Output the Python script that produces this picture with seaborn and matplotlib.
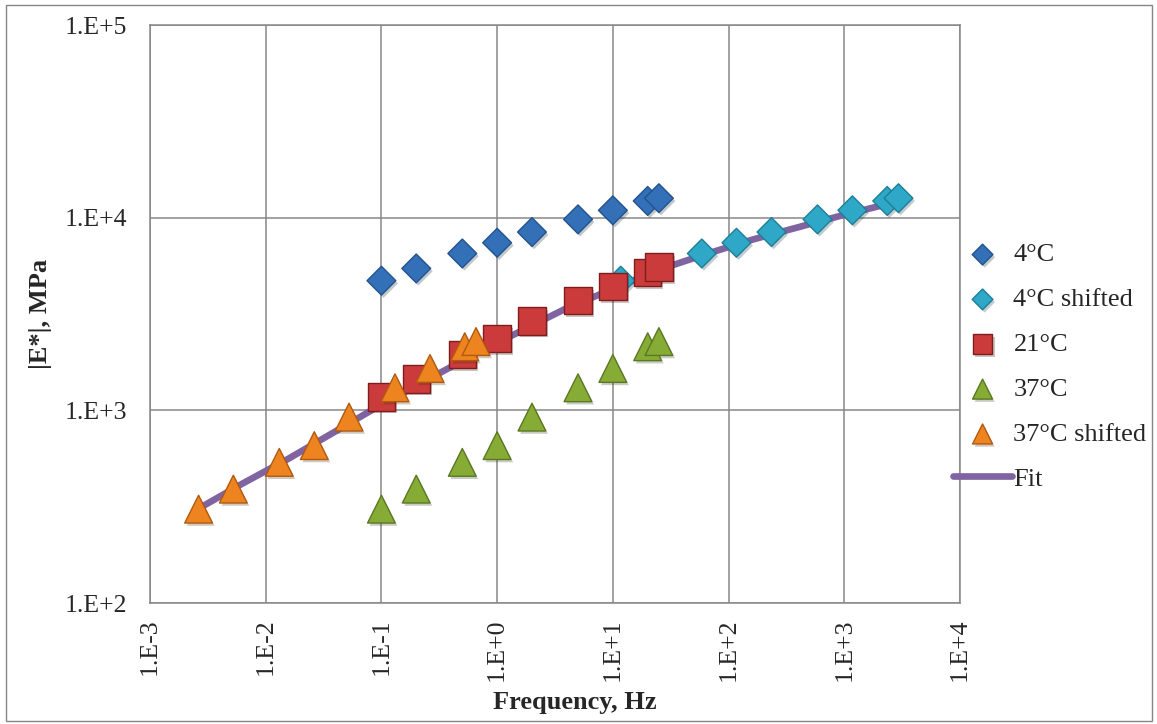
import matplotlib
matplotlib.use('Agg')
import matplotlib.pyplot as plt
import matplotlib.patheffects as pe
from matplotlib.patches import Rectangle
import seaborn as sns

# Measured frequencies, Hz
freq = [0.1, 0.2, 0.5, 1, 2, 5, 10, 20, 25]
# shifted frequencies
freq_4c_shifted = [11.7, 23.4, 58.7, 117, 235, 587, 1175, 2350, 2940]
freq_37c_shifted = [0.00263, 0.00525, 0.0131, 0.0263, 0.0525, 0.131, 0.263, 0.525, 0.657]

# |E*| in MPa
e_4c = [4710, 5450, 6520, 7410, 8420, 9800, 10920, 12210, 12620]
e_21c = [1175, 1456, 1945, 2355, 2910, 3715, 4385, 5210, 5545]
e_37c = [307, 390, 537, 656, 922, 1309, 1649, 2138, 2275]

# master curve fit
fit_freq = [0.00263, 0.00631, 0.0158, 0.0398, 0.1, 0.251, 0.631, 1.585, 3.98,
            10, 25.1, 63.1, 158.5, 398, 1000, 2951]
fit_e = [309, 417, 562, 776, 1072, 1445, 1950, 2570, 3388,
         4266, 5370, 6457, 7674, 8913, 10350, 12160]

x_ticks = [1e-3, 1e-2, 1e-1, 1e0, 1e1, 1e2, 1e3, 1e4]
x_tick_labels = ['1.E-3', '1.E-2', '1.E-1', '1.E+0', '1.E+1', '1.E+2', '1.E+3', '1.E+4']
y_ticks = [1e2, 1e3, 1e4, 1e5]
y_tick_labels = ['1.E+2', '1.E+3', '1.E+4', '1.E+5']

sns.set_style('white')
plt.rcParams['font.family'] = ['Liberation Serif', 'DejaVu Serif']

fig = plt.figure(figsize=(11.57, 7.24), dpi=100)
ax = fig.add_axes([150 / 1157, 1 - 603 / 724, 810 / 1157, 578 / 724])

shadow = [pe.SimplePatchShadow(offset=(1.5, -2), alpha=0.25), pe.Normal()]

# fit line goes underneath the markers
sns.lineplot(x=fit_freq, y=fit_e, ax=ax, color='#8064A2', linewidth=4.8,
             sort=False, estimator=None, label='Fit', zorder=2)

sns.scatterplot(x=freq, y=e_4c, ax=ax, marker='D', s=215, color='#3370B8',
                edgecolor='#22538C', linewidth=1, label='4°C', zorder=3)
sns.scatterplot(x=freq_4c_shifted, y=e_4c, ax=ax, marker='D', s=215, color='#2FA8C8',
                edgecolor='#1E7E98', linewidth=1, label='4°C shifted', zorder=3)
sns.scatterplot(x=freq, y=e_21c, ax=ax, marker='s', s=390, color='#CC3B3B',
                edgecolor='#7E1D1D', linewidth=1, label='21°C', zorder=4)
sns.scatterplot(x=freq, y=e_37c, ax=ax, marker='^', s=400, color='#86AC35',
                edgecolor='#5B7724', linewidth=1, label='37°C', zorder=5)
sns.scatterplot(x=freq_37c_shifted, y=e_37c, ax=ax, marker='^', s=400, color='#EE8420',
                edgecolor='#B05A10', linewidth=1, label='37°C shifted', zorder=6)

for coll in ax.collections:
    coll.set_path_effects(shadow)

ax.set_xscale('log')
ax.set_yscale('log')
ax.set_xlim(1e-3, 1e4)
ax.set_ylim(1e2, 1e5)
ax.set_xticks(x_ticks)
ax.set_xticklabels(x_tick_labels, rotation=90, fontsize=18.5)
ax.set_yticks(y_ticks)
ax.set_yticklabels(y_tick_labels, fontsize=18.5)
ax.minorticks_off()
ax.tick_params(axis='y', length=0, pad=16.5)
ax.tick_params(axis='x', length=0, pad=11)
ax.grid(True, which='major', color='#878787', linewidth=1.1)
ax.set_axisbelow(True)
for sp in ax.spines.values():
    sp.set_color('#878787')
    sp.set_linewidth(1.1)

ax.set_xlabel('Frequency, Hz', fontsize=19, fontweight='bold')
ax.set_ylabel('|E*|, MPa', fontsize=19, fontweight='bold')
ax.xaxis.set_label_coords((575 - 150) / 810, (603 - 703) / 578)
ax.xaxis.label.set_va('center')
ax.yaxis.set_label_coords((40 - 150) / 810, 0.5)
ax.yaxis.label.set_va('center')

handles, labels = ax.get_legend_handles_labels()
order = ['4°C', '4°C shifted', '21°C', '37°C', '37°C shifted', 'Fit']
hmap = dict(zip(labels, handles))
ax.legend([hmap[k] for k in order], order, loc='upper left',
          bbox_to_anchor=(953 / 1157, 1 - 243 / 724), bbox_transform=fig.transFigure,
          frameon=False, fontsize=19, markerscale=0.72, handlelength=2.24,
          handletextpad=0.05, labelspacing=0.81, borderpad=0, borderaxespad=0)

# chart border
fig.patches.append(Rectangle((6 / 1157, 3 / 724), 1146 / 1157, 716 / 724,
                             transform=fig.transFigure, fill=False,
                             edgecolor='#868686', linewidth=1))

fig.savefig('out.png', dpi=100)
